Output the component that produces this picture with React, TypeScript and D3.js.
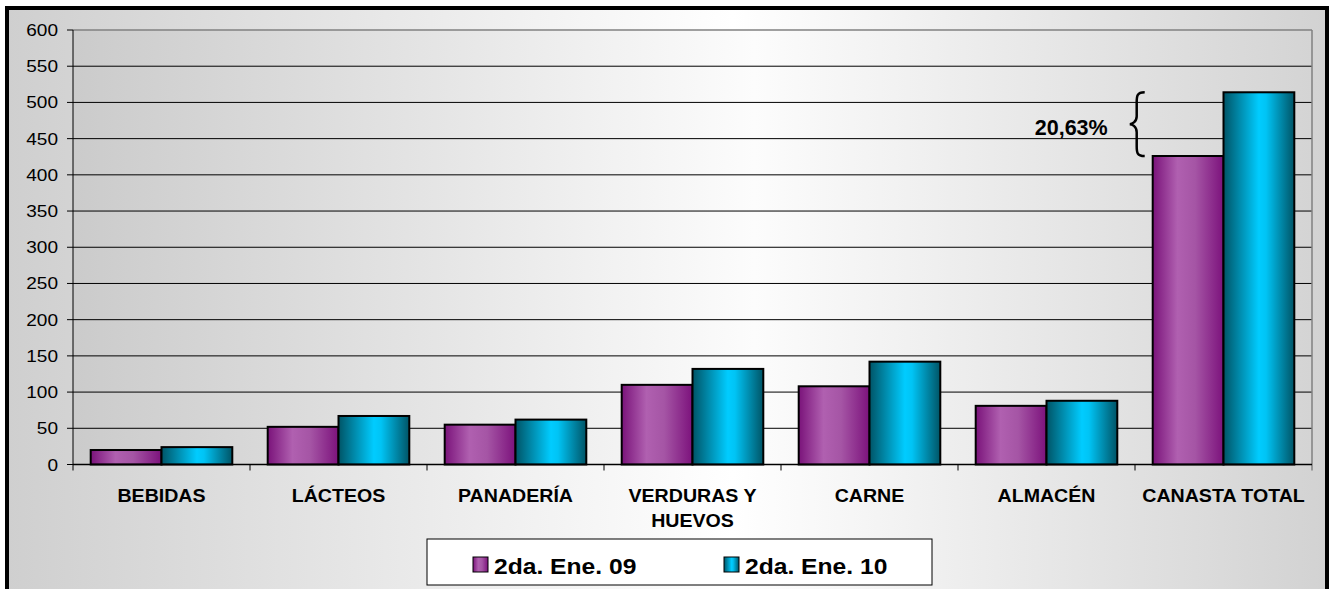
import React from "react";
import * as d3 from "d3";

const categories = ["BEBIDAS", "LÁCTEOS", "PANADERÍA", "VERDURAS Y\nHUEVOS", "CARNE", "ALMACÉN", "CANASTA TOTAL"];
const seriesNames = ["2da. Ene. 09", "2da. Ene. 10"];
const values09 = [20, 52, 55, 110, 108, 81, 426];
const values10 = [24, 67, 62, 132, 142, 88, 514];
const yTicks = [0, 50, 100, 150, 200, 250, 300, 350, 400, 450, 500, 550, 600];
const annotationLabel = "20,63%";

const W = 1333;
const H = 589;
const left = 73;
const right = 1312;
const top = 30;
const bottom = 464.5;

export default function App() {
  const x = d3.scaleBand<string>().domain(categories).range([left, right]).paddingInner(0).paddingOuter(0);
  const xs = d3.scaleBand<string>().domain(seriesNames).range([0, x.bandwidth()]).paddingInner(0).paddingOuter(0.25);
  const y = d3.scaleLinear().domain([0, 600]).range([bottom, top]);
  const seriesVals = [values09, values10];
  const fills = ["url(#gPurple)", "url(#gCyan)"];

  const lastCat = categories[categories.length - 1];
  const bx = (x(lastCat) as number) + (xs(seriesNames[0]) as number);
  const braceX = bx - 8;
  const yTop = y(values10[6]);
  const yBot = y(values09[6]);
  const yMid = (yTop + yBot) / 2;
  const braceTip = braceX - 15;
  const braceMidX = braceX - 8;
  const bracePath = `M${braceX},${yTop} C${braceMidX},${yTop} ${braceMidX},${yTop + 4} ${braceMidX},${yTop + 10} L${braceMidX},${yMid - 8} C${braceMidX},${yMid - 2} ${braceTip + 2},${yMid} ${braceTip},${yMid} C${braceTip + 2},${yMid} ${braceMidX},${yMid + 2} ${braceMidX},${yMid + 8} L${braceMidX},${yBot - 10} C${braceMidX},${yBot - 4} ${braceMidX},${yBot} ${braceX},${yBot}`;

  return (
    <svg width={W} height={H} style={{ display: "block", position: "absolute", left: 0, top: 0 }} fontFamily="Arial, Liberation Sans, sans-serif">
      <defs>
        <linearGradient id="gBg" x1="0" x2="1" y1="0" y2="0">
          <stop offset="0" stopColor="#cfcfcf" />
          <stop offset="0.55" stopColor="#ffffff" />
          <stop offset="1" stopColor="#d2d2d2" />
        </linearGradient>
        <linearGradient id="gPlot" x1="0" x2="1" y1="0" y2="0">
          <stop offset="0" stopColor="#cbcbcb" />
          <stop offset="0.55" stopColor="#fcfcfc" />
          <stop offset="1" stopColor="#d4d4d4" />
        </linearGradient>
        <linearGradient id="gPurple" x1="0" x2="1" y1="0" y2="0">
          <stop offset="0" stopColor="#7a137a" />
          <stop offset="0.35" stopColor="#b060b0" />
          <stop offset="0.6" stopColor="#a555a5" />
          <stop offset="1" stopColor="#7c127c" />
        </linearGradient>
        <linearGradient id="gCyan" x1="0" x2="1" y1="0" y2="0">
          <stop offset="0" stopColor="#005466" />
          <stop offset="0.5" stopColor="#00ccff" />
          <stop offset="0.6" stopColor="#00c4f5" />
          <stop offset="1" stopColor="#005466" />
        </linearGradient>
      </defs>
      <rect x={7} y={8} width={1320} height={600} fill="url(#gBg)" stroke="#000" strokeWidth={4} />
      <rect x={left} y={top} width={right - left} height={bottom - top} fill="url(#gPlot)" />
      {yTicks.filter((t) => t > 0 && t < 600).map((t) => (
        <line key={"g" + t} x1={left} x2={right} y1={y(t)} y2={y(t)} stroke="#000" strokeWidth={1} />
      ))}
      <line x1={left} x2={right} y1={y(600)} y2={y(600)} stroke="#808080" strokeWidth={1.5} />
      <line x1={right} x2={right} y1={top} y2={bottom + 6} stroke="#808080" strokeWidth={1.5} />
      {yTicks.map((t) => (
        <g key={"t" + t}>
          <line x1={left - 6} x2={left} y1={y(t)} y2={y(t)} stroke="#000" strokeWidth={1} />
          <text transform={`translate(58,${y(t) + 6}) scale(1.12,1)`} textAnchor="end" fontSize={17} fill="#000">{t}</text>
        </g>
      ))}
      {categories.map((c, i) => (
        <g key={"c" + i}>
          {seriesVals.map((vals, s) => (
            <rect key={s}
              x={(x(c) as number) + (xs(seriesNames[s]) as number)}
              y={y(vals[i])}
              width={xs.bandwidth()}
              height={bottom - y(vals[i])}
              fill={fills[s]} stroke="#000" strokeWidth={2} />
          ))}
        </g>
      ))}
      <line x1={left} x2={left} y1={top} y2={bottom} stroke="#000" strokeWidth={1} />
      <line x1={left} x2={right} y1={bottom} y2={bottom} stroke="#000" strokeWidth={1.5} />
      {categories.map((c, i) => (
        <line key={"ct" + i} x1={x(c) as number} x2={x(c) as number} y1={bottom} y2={bottom + 6} stroke="#000" strokeWidth={1} />
      ))}
      {categories.map((c, i) => (
        <g key={"l" + i} transform={`translate(${(x(c) as number) + x.bandwidth() / 2},0)`}>
          {c.split("\n").map((line, j) => (
            <text key={j} transform={`translate(0,${502 + j * 25}) scale(1.06,1)`} textAnchor="middle" fontSize={18.5} fontWeight="bold" fill="#000">{line}</text>
          ))}
        </g>
      ))}
      <path d={bracePath} fill="none" stroke="#000" strokeWidth={2.5} />
      <text transform={`translate(${braceTip - 22},${yMid + 11})`} textAnchor="end" fontSize={21.5} fontWeight="bold" fill="#000">{annotationLabel}</text>
      <rect x={427} y={539} width={505} height={46} fill="#fff" stroke="#000" strokeWidth={1} />
      {seriesNames.map((s, i) => {
        const lx = i === 0 ? 473 : 724;
        return (
          <g key={"lg" + i}>
            <rect x={lx} y={557} width={15} height={15} fill={fills[i]} stroke="#000" strokeWidth={1} />
            <text transform={`translate(${lx + 21},573.5) scale(1.12,1)`} fontSize={22} fontWeight="bold" fill="#000">{s}</text>
          </g>
        );
      })}
    </svg>
  );
}
